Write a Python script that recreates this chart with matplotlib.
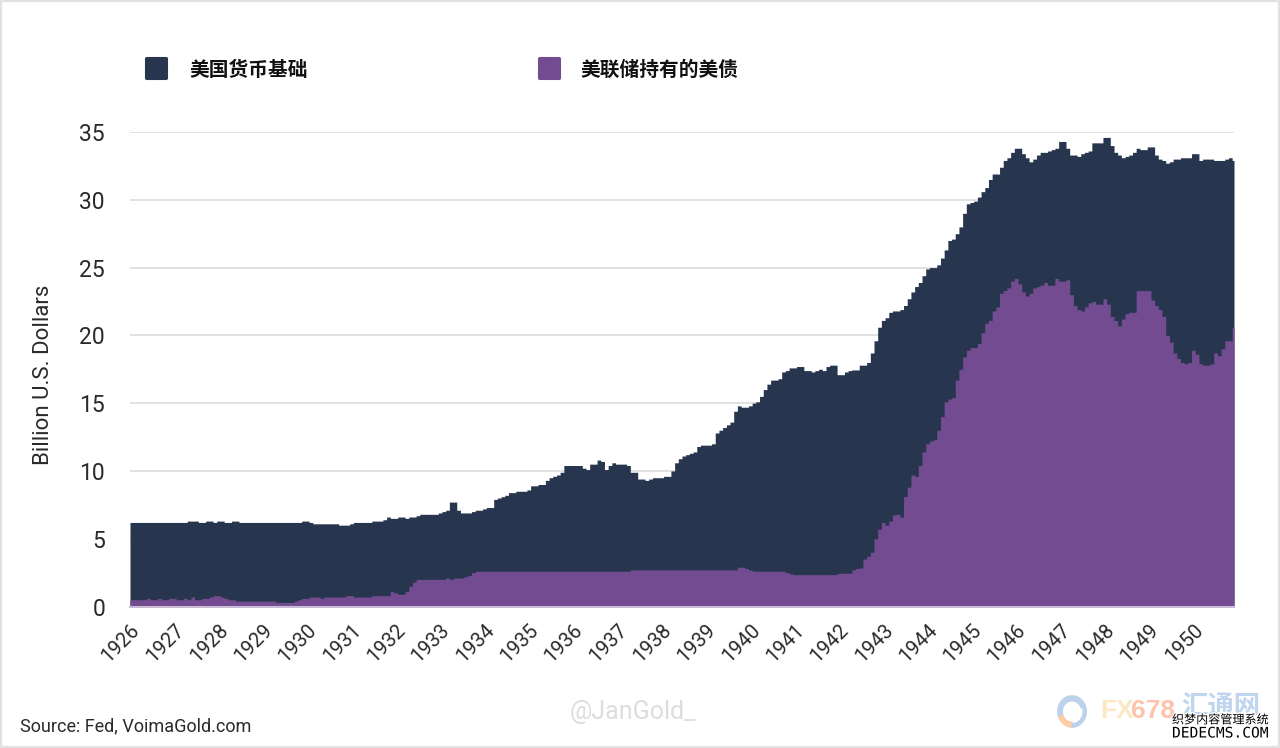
import numpy as np
from matplotlib import pyplot as plt
from matplotlib import patheffects
from matplotlib.patches import FancyBboxPatch, Rectangle, Wedge

years = list(range(1926, 1951))

# monthly values, one row per year, billion USD
monetary_base = [
    6.2, 6.2, 6.2, 6.2, 6.2, 6.2, 6.2, 6.2, 6.2, 6.2, 6.2, 6.2,
    6.2, 6.2, 6.2, 6.2, 6.3, 6.3, 6.3, 6.2, 6.2, 6.3, 6.3, 6.2,
    6.3, 6.3, 6.2, 6.2, 6.3, 6.3, 6.2, 6.2, 6.2, 6.2, 6.2, 6.2,
    6.2, 6.2, 6.2, 6.2, 6.2, 6.2, 6.2, 6.2, 6.2, 6.2, 6.2, 6.3,
    6.3, 6.2, 6.1, 6.1, 6.1, 6.1, 6.1, 6.1, 6.1, 6.0, 6.0, 6.0,
    6.1, 6.2, 6.2, 6.2, 6.2, 6.2, 6.3, 6.3, 6.3, 6.4, 6.6, 6.5,
    6.5, 6.6, 6.6, 6.5, 6.6, 6.6, 6.7, 6.8, 6.8, 6.8, 6.8, 6.8,
    6.9, 7.0, 7.1, 7.7, 7.7, 7.1, 6.9, 6.9, 6.9, 7.0, 7.1, 7.1,
    7.2, 7.3, 7.3, 7.9, 8.0, 8.1, 8.2, 8.4, 8.4, 8.5, 8.5, 8.5,
    8.6, 8.9, 8.9, 9.0, 9.0, 9.3, 9.5, 9.6, 9.7, 9.9, 10.4, 10.4,
    10.4, 10.4, 10.4, 10.2, 10.1, 10.5, 10.5, 10.8, 10.7, 10.1, 10.4, 10.6,
    10.5, 10.5, 10.5, 10.4, 9.9, 9.9, 9.4, 9.4, 9.3, 9.4, 9.5, 9.5,
    9.5, 9.6, 9.6, 10.0, 10.6, 10.9, 11.1, 11.2, 11.3, 11.4, 11.8, 11.9,
    11.9, 11.9, 12.0, 12.8, 13.0, 13.2, 13.4, 13.6, 14.4, 14.8, 14.7, 14.7,
    14.8, 15.0, 15.1, 15.5, 16.0, 16.4, 16.7, 16.7, 16.8, 17.3, 17.4, 17.6,
    17.6, 17.7, 17.7, 17.4, 17.4, 17.3, 17.4, 17.5, 17.4, 17.7, 17.8, 17.8,
    17.1, 17.1, 17.3, 17.4, 17.45, 17.45, 17.8, 17.8, 18.0, 18.7, 19.6, 20.6,
    21.1, 21.3, 21.7, 21.8, 21.8, 21.9, 22.2, 22.7, 23.2, 23.6, 23.9, 24.4,
    24.9, 25.0, 25.0, 25.2, 25.7, 26.3, 27.0, 27.1, 27.5, 28.0, 29.0, 29.7,
    29.8, 29.9, 30.2, 30.6, 30.9, 31.5, 31.9, 31.9, 32.4, 32.9, 33.1, 33.5,
    33.8, 33.8, 33.4, 33.1, 32.8, 33.0, 33.3, 33.5, 33.5, 33.6, 33.7, 33.8,
    34.3, 34.3, 33.8, 33.3, 33.3, 33.2, 33.4, 33.5, 33.6, 34.2, 34.2, 34.2,
    34.6, 34.6, 34.0, 33.5, 33.3, 33.1, 33.2, 33.3, 33.5, 33.8, 33.7, 33.7,
    33.9, 33.9, 33.3, 33.0, 32.9, 32.7, 32.8, 33.0, 33.0, 33.1, 33.1, 33.1,
    33.4, 33.4, 32.9, 33.0, 33.0, 33.0, 32.9, 32.9, 32.9, 33.0, 33.1, 32.9,
]

fed_treasuries = [
    0.5, 0.5, 0.5, 0.5, 0.5, 0.6, 0.5, 0.5, 0.6, 0.5, 0.5, 0.6,
    0.6, 0.5, 0.5, 0.6, 0.5, 0.7, 0.5, 0.5, 0.6, 0.6, 0.7, 0.8,
    0.8, 0.7, 0.6, 0.5, 0.5, 0.4, 0.4, 0.4, 0.4, 0.4, 0.4, 0.4,
    0.4, 0.4, 0.4, 0.4, 0.3, 0.3, 0.3, 0.3, 0.3, 0.4, 0.5, 0.6,
    0.6, 0.7, 0.7, 0.7, 0.6, 0.7, 0.7, 0.7, 0.7, 0.7, 0.7, 0.8,
    0.8, 0.7, 0.7, 0.7, 0.7, 0.7, 0.8, 0.8, 0.8, 0.8, 0.8, 1.1,
    1.0, 0.9, 0.9, 1.1, 1.5, 1.8, 2.0, 2.0, 2.0, 2.0, 2.0, 2.0,
    2.0, 2.0, 2.1, 2.0, 2.1, 2.1, 2.1, 2.2, 2.3, 2.5, 2.6, 2.6,
    2.6, 2.6, 2.6, 2.6, 2.6, 2.6, 2.6, 2.6, 2.6, 2.6, 2.6, 2.6,
    2.6, 2.6, 2.6, 2.6, 2.6, 2.6, 2.6, 2.6, 2.6, 2.6, 2.6, 2.6,
    2.6, 2.6, 2.6, 2.6, 2.6, 2.6, 2.6, 2.6, 2.6, 2.6, 2.6, 2.6,
    2.6, 2.6, 2.6, 2.6, 2.7, 2.7, 2.7, 2.7, 2.7, 2.7, 2.7, 2.7,
    2.7, 2.7, 2.7, 2.7, 2.7, 2.7, 2.7, 2.7, 2.7, 2.7, 2.7, 2.7,
    2.7, 2.7, 2.7, 2.7, 2.7, 2.7, 2.7, 2.7, 2.7, 2.9, 2.9, 2.8,
    2.7, 2.6, 2.6, 2.6, 2.6, 2.6, 2.6, 2.6, 2.6, 2.6, 2.5, 2.4,
    2.35, 2.35, 2.35, 2.35, 2.35, 2.35, 2.35, 2.35, 2.35, 2.35, 2.35, 2.35,
    2.45, 2.45, 2.45, 2.45, 2.7, 2.8, 2.84, 3.5, 3.7, 4.0, 5.0, 5.7,
    6.2, 6.0, 6.3, 6.75, 6.8, 6.6, 8.1, 8.8, 9.7, 9.6, 10.4, 11.4,
    12.0, 12.2, 12.3, 13.0, 14.0, 15.1, 15.3, 15.4, 16.7, 17.5, 18.4, 18.9,
    19.1, 19.1, 19.4, 20.2, 20.9, 21.1, 21.8, 22.1, 23.1, 23.3, 23.5, 24.0,
    24.2, 23.8, 23.2, 22.9, 23.1, 23.5, 23.6, 23.7, 23.9, 23.7, 23.7, 24.2,
    24.0, 24.0, 24.1, 23.0, 22.2, 21.9, 21.8, 22.1, 22.4, 22.5, 22.3, 22.3,
    22.7, 22.3, 21.4, 21.1, 20.7, 21.2, 21.6, 21.7, 21.7, 23.3, 23.3, 23.3,
    23.3, 22.6, 22.2, 21.9, 21.4, 20.0, 19.5, 18.7, 18.3, 18.0, 17.9, 18.0,
    18.9, 18.6, 17.9, 17.8, 17.8, 17.9, 18.7, 18.5, 19.0, 19.6, 19.6, 20.6,
]

legend_labels = ['美国货币基础', '美联储持有的美债']
ytick_values = [0, 5, 10, 15, 20, 25, 30, 35]

DARK = '#27364E'
PURPLE = '#734B91'
TEXT = '#2A2A2A'
W, H = 1280, 748
LATIN = ['Roboto', 'DejaVu Sans']
CJK = ['Noto Sans CJK SC', 'DejaVu Sans']


def fx(px):
    return px / W


def fy(px):
    return 1 - px / H


months = np.arange(len(monetary_base))

fig = plt.figure(figsize=(W / 100, H / 100), dpi=100, facecolor='white')
ax = fig.add_axes([fx(130), fy(606.5), fx(1234) - fx(130), fy(132) - fy(606.5)])

ax.fill_between(months, monetary_base, color=DARK, lw=0, step='mid', zorder=2)
ax.fill_between(months, fed_treasuries, color=PURPLE, lw=0, step='mid', zorder=3)

ax.set_xlim(0, len(months) - 1)
ax.set_ylim(0, 35)
ax.set_yticks(ytick_values)
ax.yaxis.grid(True, color='#DEDEDE', lw=1.3, zorder=1)
ax.set_axisbelow(True)
ax.tick_params(length=0)
for side in ['top', 'right', 'left']:
    ax.spines[side].set_visible(False)
ax.spines['bottom'].set_color('#C9BBD6')
ax.spines['bottom'].set_linewidth(1.5)
ax.spines['bottom'].set_zorder(5)

ax.set_xticks(months[::12])
ax.set_xticklabels(years, rotation=45, ha='right', va='top', rotation_mode='anchor',
                   fontsize=14.5, family=LATIN, color=TEXT)
ax.tick_params(axis='x', pad=10)
ax.tick_params(axis='y', pad=18, labelsize=16.5, labelcolor=TEXT)
for label in ax.get_yticklabels():
    label.set_family(LATIN)

fig.text(fx(44), fy(375), 'Billion U.S. Dollars', rotation=90, ha='center', va='center',
         fontsize=16, family=LATIN, color=TEXT)

# legend drawn by hand, spacing is wide in the original
for x0, x_text, colour, label in zip([145, 538], [189, 580], [DARK, PURPLE], legend_labels):
    fig.add_artist(FancyBboxPatch((fx(x0 + 1), fy(79)), fx(21), 21 / H,
                                  boxstyle='round,pad=0,rounding_size=0.001',
                                  transform=fig.transFigure, mutation_aspect=1,
                                  facecolor=colour, edgecolor=colour, lw=1.5))
    fig.text(fx(x_text), fy(70), label, ha='left', va='center', fontsize=14.2,
             family=CJK, weight='bold', color='#111111')

fig.text(fx(20), fy(726), 'Source: Fed, VoimaGold.com', ha='left', va='center',
         fontsize=13, family=LATIN, color=TEXT)
fig.text(fx(570), fy(712), '@JanGold_', ha='left', va='center',
         fontsize=18, family=LATIN, color='#DDDDDD')

# site watermark bottom right
logo_ax = fig.add_axes([fx(1057), fy(728), 30 / W, 33 / H])
logo_ax.set_xlim(-1, 1)
logo_ax.set_ylim(-1, 1)
logo_ax.axis('off')
logo_ax.add_patch(Wedge((0, 0), 0.95, 20, 200, width=0.3, color='#BCD2EC'))
logo_ax.add_patch(Wedge((0, 0), 0.95, 200, 270, width=0.3, color='#FBCFA8'))
logo_ax.add_patch(Wedge((0, 0), 0.95, 270, 380, width=0.2, color='#BCD2EC'))

fig.text(fx(1100), fy(711), 'FX', ha='left', va='center', fontsize=19, weight='bold',
         family=['Liberation Sans', 'DejaVu Sans'], color='#FDE8C4')
fig.text(fx(1131), fy(711), '678', ha='left', va='center', fontsize=19, weight='bold',
         family=['Liberation Sans', 'DejaVu Sans'], color='#FFC3AB')
fig.text(fx(1181), fy(707), '汇通网', ha='left', va='center', fontsize=19, weight='bold',
         family=CJK, color='#BFD5EE')
outline = [patheffects.withStroke(linewidth=2, foreground='white')]
fig.text(fx(1172), fy(720), '织梦内容管理系统', ha='left', va='center', fontsize=8.7,
         family=CJK, color='black', path_effects=outline)
fig.text(fx(1172), fy(733), 'DEDECMS.COM', ha='left', va='center', fontsize=10.5,
         family=['DejaVu Sans Mono', 'DejaVu Sans'], color='black', path_effects=outline)

# light frame around the whole picture
fig.add_artist(Rectangle((0, 0), 1, 1, transform=fig.transFigure, fill=False,
                         edgecolor='#E2E2E2', lw=3))

fig.savefig('out.png', dpi=100)
